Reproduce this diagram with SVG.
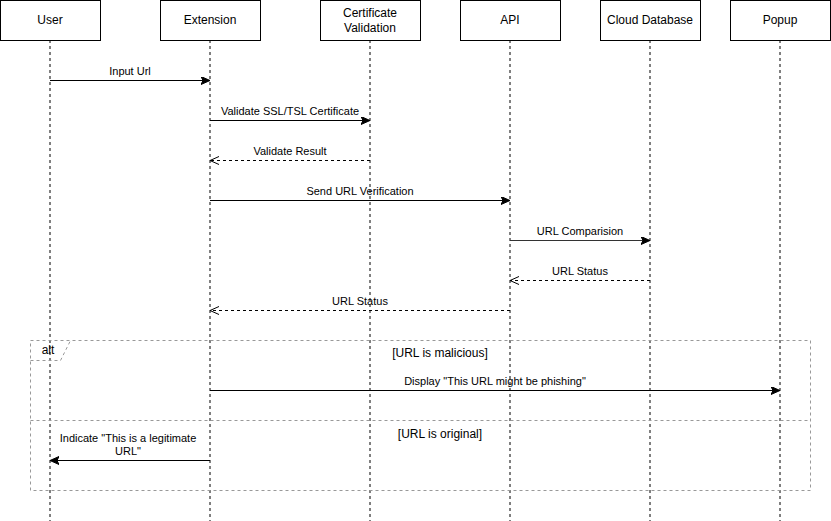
<svg xmlns="http://www.w3.org/2000/svg" width="831" height="521" viewBox="0 0 831 521">
<style>
  .box{fill:#fff;stroke:#000;stroke-width:1}
  .life{stroke:#000;stroke-width:1;stroke-dasharray:3,3;fill:none}
  .hdr{font-family:"Liberation Sans",Arial,sans-serif;font-size:12px;fill:#000;text-anchor:middle}
  .lbl{font-family:"Liberation Sans",Arial,sans-serif;font-size:11px;fill:#000;text-anchor:middle}
  .grd{font-family:"Liberation Sans",Arial,sans-serif;font-size:12px;fill:#000;text-anchor:middle}
  .msg{stroke:#000;stroke-width:1;fill:none;marker-end:url(#block)}
  .ret{stroke:#000;stroke-width:1;fill:none;stroke-dasharray:3,3;marker-end:url(#open)}
  .frame{fill:none;stroke:#999;stroke-width:1;stroke-dasharray:3,3}
</style>
<defs>
  <marker id="block" markerWidth="10" markerHeight="10" refX="9" refY="4" orient="auto" markerUnits="userSpaceOnUse">
    <path d="M0,0 L9,4 L0,8 L2,4 Z" fill="#000" stroke="#000" stroke-width="1"/>
  </marker>
  <marker id="open" markerWidth="10" markerHeight="10" refX="9" refY="4" orient="auto" markerUnits="userSpaceOnUse">
    <path d="M0,0 L9,4 L0,8" fill="none" stroke="#000" stroke-width="1"/>
  </marker>
</defs>
<rect width="831" height="521" fill="#fff"/>
<g id="lifelines">
  <line class="life" x1="50" y1="40" x2="50" y2="521"/>
  <line class="life" x1="210" y1="40" x2="210" y2="521"/>
  <line class="life" x1="370" y1="40" x2="370" y2="521"/>
  <line class="life" x1="510" y1="40" x2="510" y2="521"/>
  <line class="life" x1="650" y1="40" x2="650" y2="521"/>
  <line class="life" x1="780" y1="40" x2="780" y2="521"/>
</g>
<g id="user"><rect class="box" x="0.5" y="0.5" width="100" height="40"/><text class="hdr" x="50" y="24">User</text></g>
<g id="extension"><rect class="box" x="160.5" y="0.5" width="100" height="40"/><text class="hdr" x="210" y="24">Extension</text></g>
<g id="cert"><rect class="box" x="320.5" y="0.5" width="100" height="40"/><text class="hdr" x="370" y="17">Certificate</text><text class="hdr" x="370" y="32">Validation</text></g>
<g id="api"><rect class="box" x="460.5" y="0.5" width="100" height="40"/><text class="hdr" x="510" y="24">API</text></g>
<g id="clouddb"><rect class="box" x="600.5" y="0.5" width="100" height="40"/><text class="hdr" x="650" y="24">Cloud Database</text></g>
<g id="popup"><rect class="box" x="730.5" y="0.5" width="100" height="40"/><text class="hdr" x="780" y="24">Popup</text></g>
<g id="alt-frame">
  <rect class="frame" x="30.5" y="340.5" width="780" height="150"/>
  <path class="frame" d="M30.5,360.5 L60.5,360.5 L70.5,340.5"/>
  <line class="frame" x1="30.5" y1="420.5" x2="810.5" y2="420.5"/>
  <text class="grd" x="48" y="354">alt</text>
  <text class="grd" x="440" y="357">[URL is malicious]</text>
  <text class="grd" x="440" y="438">[URL is original]</text>
</g>
<g id="connectors">
  <line class="msg" x1="50" y1="80.5" x2="210" y2="80.5"/>
  <text class="lbl" x="130" y="75">Input Url</text>
  <line class="msg" x1="210" y1="120.5" x2="370" y2="120.5"/>
  <text class="lbl" x="290" y="115">Validate SSL/TSL Certificate</text>
  <line class="ret" x1="370" y1="160.5" x2="210" y2="160.5"/>
  <text class="lbl" x="290" y="155">Validate Result</text>
  <line class="msg" x1="210" y1="200.5" x2="510" y2="200.5"/>
  <text class="lbl" x="360" y="195">Send URL Verification</text>
  <line class="msg" x1="510" y1="240.5" x2="650" y2="240.5" style="stroke:#333"/>
  <text class="lbl" x="580" y="235">URL Comparision</text>
  <line class="ret" x1="650" y1="280.5" x2="510" y2="280.5"/>
  <text class="lbl" x="580" y="275">URL Status</text>
  <line class="ret" x1="510" y1="310.5" x2="210" y2="310.5"/>
  <text class="lbl" x="360" y="305">URL Status</text>
  <line class="msg" x1="210" y1="390.5" x2="780" y2="390.5"/>
  <text class="lbl" x="495" y="385">Display "This URL might be phishing"</text>
  <line class="msg" x1="210" y1="460.5" x2="50" y2="460.5"/>
  <text class="lbl" x="128" y="442">Indicate "This is a legitimate</text>
  <text class="lbl" x="128" y="455">URL"</text>
</g>
</svg>
